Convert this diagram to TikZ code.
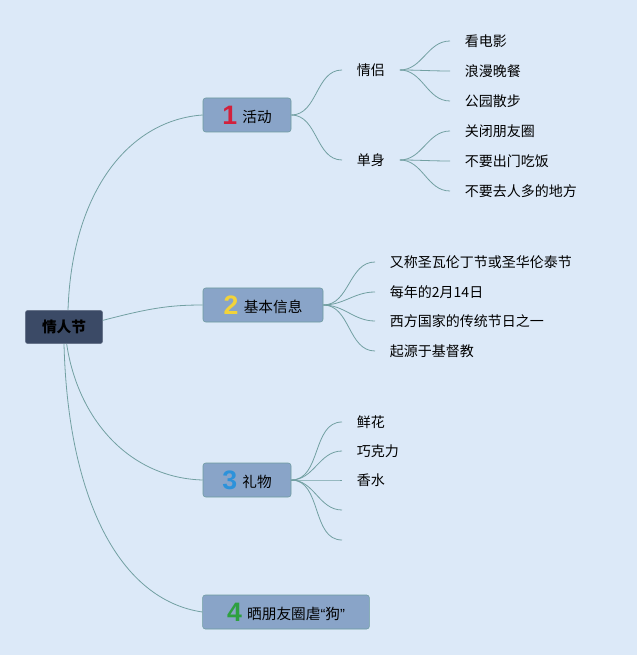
\documentclass[tikz,border=0pt]{standalone}
\usepackage{fontspec}
\setmainfont{Noto Sans CJK SC}
\newfontfamily\numfont{Liberation Sans}
\definecolor{fond}{HTML}{DCE9F8}
\definecolor{lien}{HTML}{72A0A2}
\definecolor{sujet}{HTML}{89A4C8}
\definecolor{bordsujet}{HTML}{6E9CA0}
\definecolor{racine}{HTML}{3B4A66}
\definecolor{un}{HTML}{D2203C}
\definecolor{deux}{HTML}{F2D33A}
\definecolor{trois}{HTML}{2C92DA}
\definecolor{quatre}{HTML}{2EA040}
\newcommand{\chiffre}[2]{\raisebox{-1.5pt}{\numfont\bfseries\fontsize{20pt}{20pt}\selectfont\color{#1}#2}\hspace{4pt}}

\begin{document}
\begin{tikzpicture}[x=0.75pt, y=-0.75pt]
  % Définition des styles
  \tikzset{
    racinebox/.style={draw=racine!80!white, fill=racine, rounded corners=2pt, minimum width=58pt, minimum height=25pt, font=\fontsize{11pt}{11pt}\selectfont\bfseries},
    sujetbox/.style={draw=bordsujet, fill=sujet, rounded corners=2pt, minimum height=25.5pt, inner xsep=6pt, font=\fontsize{11pt}{11pt}\selectfont},
    feuille/.style={anchor=west, inner xsep=11pt, inner ysep=2pt, font=\fontsize{10.5pt}{10.5pt}\selectfont},
    branche/.style={draw=lien, line width=0.6pt}
  }

  % Fond et cadre
  \fill[fond] (0,0) rectangle (637,655);
  \useasboundingbox (0,0) rectangle (637,655);

  % Racine
  \node[racinebox] (fete) at (64,327) {情人节};

  % --- Sujets principaux ---
  \node[sujetbox, minimum width=66pt] (activite) at (247,115) {\chiffre{un}{1}活动};
  \node[sujetbox, minimum width=90pt] (infos) at (263,305) {\chiffre{deux}{2}基本信息};
  \node[sujetbox, minimum width=66pt] (cadeau) at (247,480) {\chiffre{trois}{3}礼物};
  \node[sujetbox, minimum width=125pt] (photo) at (286,612) {\chiffre{quatre}{4}晒朋友圈虐{\numfont “}狗{\numfont ”}};

  % Liens depuis la racine
  \draw[branche] ([xshift=3pt]fete.north) .. controls (72,190) and (130,120) .. (activite.west);
  \draw[branche] ([yshift=5pt]fete.east) .. controls (150,308) and (170,305) .. (infos.west);
  \draw[branche] ([xshift=2pt]fete.south) .. controls (78,420) and (130,478) .. (cadeau.west);
  \draw[branche] (fete.south) .. controls (68,500) and (120,600) .. (photo.west);

  % --- Activités ---
  \node[feuille] (couple) at (342,70) {情侣};
  \node[feuille] (seul) at (342,160) {单身};
  \foreach \n in {couple,seul}
    \draw[branche] (activite.east) to[out=0, in=180] (\n.west);

  \node[feuille] (film) at (450,41) {看电影};
  \node[feuille] (diner) at (450,71) {浪漫晚餐};
  \node[feuille] (parc) at (450,101) {公园散步};
  \node[feuille] (cercle) at (450,131) {关闭朋友圈};
  \node[feuille] (sortir) at (450,161) {不要出门吃饭};
  \node[feuille] (foule) at (450,191) {不要去人多的地方};
  \foreach \n in {film,diner,parc}
    \draw[branche] (couple.east) to[out=0, in=180] (\n.west);
  \foreach \n in {cercle,sortir,foule}
    \draw[branche] (seul.east) to[out=0, in=180] (\n.west);

  % --- Informations de base ---
  \node[feuille] (nom) at (375,262) {又称圣瓦伦丁节或圣华伦泰节};
  \node[feuille] (date) at (375,292) {每年的2月14日};
  \node[feuille] (ouest) at (375,321) {西方国家的传统节日之一};
  \node[feuille] (origine) at (375,351) {起源于基督教};
  \foreach \n in {nom,date,ouest,origine}
    \draw[branche] (infos.east) to[out=0, in=180] (\n.west);

  % --- Cadeaux ---
  \node[feuille] (fleurs) at (342,422) {鲜花};
  \node[feuille] (choco) at (342,451) {巧克力};
  \node[feuille] (parfum) at (342,480) {香水};
  \coordinate (vide1) at (342,510);
  \coordinate (vide2) at (342,540);
  \foreach \n in {fleurs,choco,parfum}
    \draw[branche] (cadeau.east) to[out=0, in=180] (\n.west);
  \foreach \n in {vide1,vide2}
    \draw[branche] (cadeau.east) to[out=0, in=180] (\n);

\end{tikzpicture}
\end{document}
